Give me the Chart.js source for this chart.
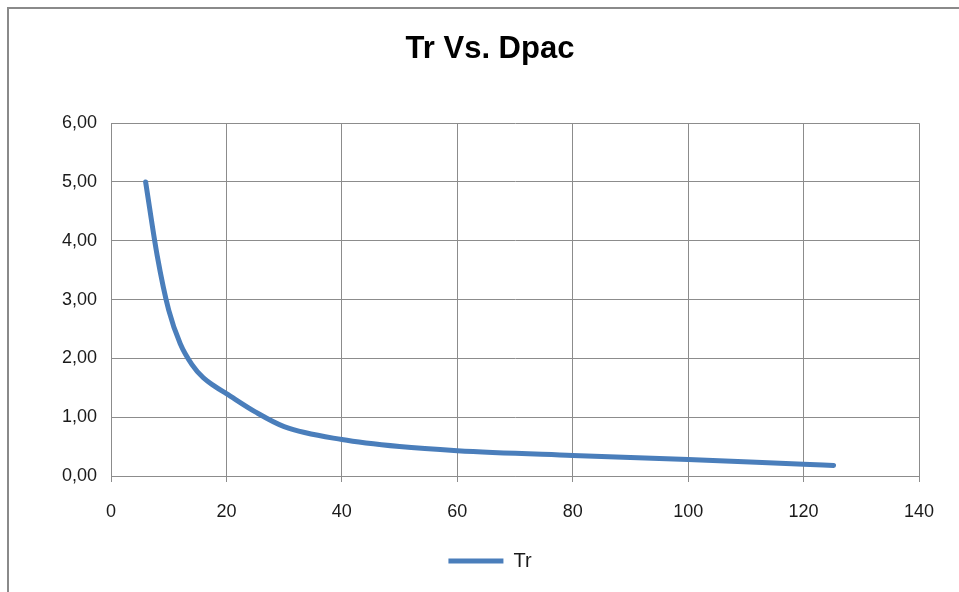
<!DOCTYPE html>
<html>
<head>
<meta charset="utf-8">
<script src="https://cdn.jsdelivr.net/npm/chart.js@4/dist/chart.umd.min.js"></script>
<style>
  html, body { margin: 0; padding: 0; background: #ffffff; }
  #wrap { position: relative; width: 959px; height: 592px; }
  #frame { position: absolute; left: 7px; top: 7px; width: 960px; height: 600px;
           border-left: 2px solid #8a8a8a; border-top: 2px solid #8a8a8a; pointer-events: none; }
  canvas { position: absolute; left: 0; top: 0; }
</style>
</head>
<body>
<div id="wrap">
  <canvas id="c" width="959" height="592"></canvas>
  <div id="frame"></div>
</div>
<script>
// Data
const chartTitle = 'Tr Vs. Dpac';
const seriesName = 'Tr';
const dpac = [6, 8, 10, 12, 14, 16, 18, 20, 25, 30, 40, 50, 60, 80, 100, 120, 125.2];
const tr   = [5.00, 3.75, 2.82, 2.25, 1.90, 1.67, 1.525, 1.40, 1.09, 0.84, 0.62, 0.50, 0.43, 0.35, 0.28, 0.20, 0.18];
const xTicks = [0, 20, 40, 60, 80, 100, 120, 140];
const yTicks = [0, 1, 2, 3, 4, 5, 6];

const points = dpac.map((x, i) => ({ x: x, y: tr[i] }));
const gridColor = '#8c8c8c';
const textColor = '#1a1a1a';
const fontFamily = '"Liberation Sans", Arial, sans-serif';

new Chart(document.getElementById('c'), {
  type: 'line',
  data: {
    datasets: [{
      label: seriesName,
      data: points,
      borderColor: '#4A7EBB',
      backgroundColor: '#4A7EBB',
      borderWidth: 5,
      borderCapStyle: 'round',
      borderJoinStyle: 'round',
      pointRadius: 0,
      pointStyle: 'line',
      cubicInterpolationMode: 'monotone',
      fill: false
    }]
  },
  options: {
    responsive: false,
    animation: false,
    devicePixelRatio: 1,
    layout: { padding: { left: 61, right: 40, top: 0, bottom: 11 } },
    plugins: {
      title: {
        display: true,
        text: chartTitle,
        color: '#000000',
        font: { family: fontFamily, size: 31, weight: 'bold' },
        padding: { top: 31, bottom: 55 }
      },
      legend: {
        display: true,
        position: 'bottom',
        labels: {
          usePointStyle: true,
          pointStyleWidth: 55,
          color: textColor,
          font: { family: fontFamily, size: 20 },
          padding: 10
        }
      },
      tooltip: { enabled: false }
    },
    scales: {
      x: {
        type: 'linear',
        min: xTicks[0],
        max: xTicks[xTicks.length - 1],
        afterBuildTicks: (s) => { s.ticks = xTicks.map(v => ({ value: v })); },
        afterFit: (s) => { s.height = 65; },
        grid: { color: gridColor, lineWidth: 1, tickLength: 6, drawTicks: true },
        border: { color: gridColor, width: 1 },
        ticks: {
          color: textColor,
          font: { family: fontFamily, size: 18 },
          padding: 19,
          maxRotation: 0,
          callback: (v) => String(v)
        }
      },
      y: {
        type: 'linear',
        min: yTicks[0],
        max: yTicks[yTicks.length - 1],
        afterBuildTicks: (s) => { s.ticks = yTicks.map(v => ({ value: v })); },
        afterFit: (s) => { s.width = 50; },
        grid: { color: gridColor, lineWidth: 1, drawTicks: false },
        border: { color: gridColor, width: 1 },
        ticks: {
          color: textColor,
          font: { family: fontFamily, size: 18 },
          padding: 14,
          callback: (v) => Number(v).toFixed(2).replace('.', ',')
        }
      }
    }
  }
});
</script>
</body>
</html>
